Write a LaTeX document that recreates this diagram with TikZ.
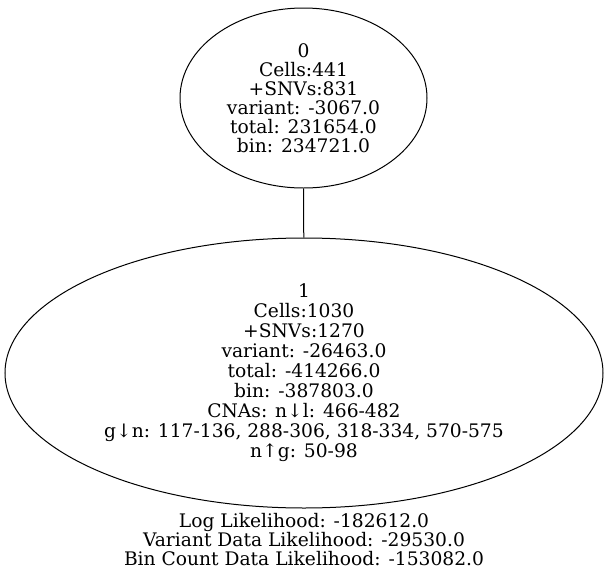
\documentclass[tikz,border=0pt]{standalone}
\usepackage{fontspec}
\setmainfont{DejaVu Serif}
\usetikzlibrary{shapes.geometric,positioning}

\begin{document}
\begin{tikzpicture}[x=0.75pt,y=-0.75pt]

  \tikzset{clone/.style={draw,ellipse,inner sep=0pt,align=center,line width=0.75pt,font=\fontsize{14}{14.25}\selectfont}}
  \tikzset{likelihood/.style={align=center,inner sep=0pt,font=\fontsize{14}{14.25}\selectfont}}

  \useasboundingbox (0,0) rectangle (608,579);

  %% clone 0
  \node [clone,minimum width=185.25pt,minimum height=135pt] (C0) at (303.5,98)
  {0\\Cells:441\\+SNVs:831\\variant: -3067.0\\total: 231654.0\\bin: 234721.0};

  %% clone 1
  \node [clone,font=\fontsize{14}{15}\selectfont,minimum width=448.5pt,minimum height=202.5pt] (C1) at (304,373)
  {1\\Cells:1030\\+SNVs:1270\\variant: -26463.0\\total: -414266.0\\bin: -387803.0\\CNAs: n↓l: 466-482\\g↓n: 117-136, 288-306, 318-334, 570-575\\n↑g: 50-98};

  \draw[line width=0.75pt] (C0) -- (C1);

  %% likelihoods
  \node [likelihood] (LL) at (304,540)
  {Log Likelihood: -182612.0\\Variant Data Likelihood: -29530.0\\Bin Count Data Likelihood: -153082.0};

\end{tikzpicture}
\end{document}
